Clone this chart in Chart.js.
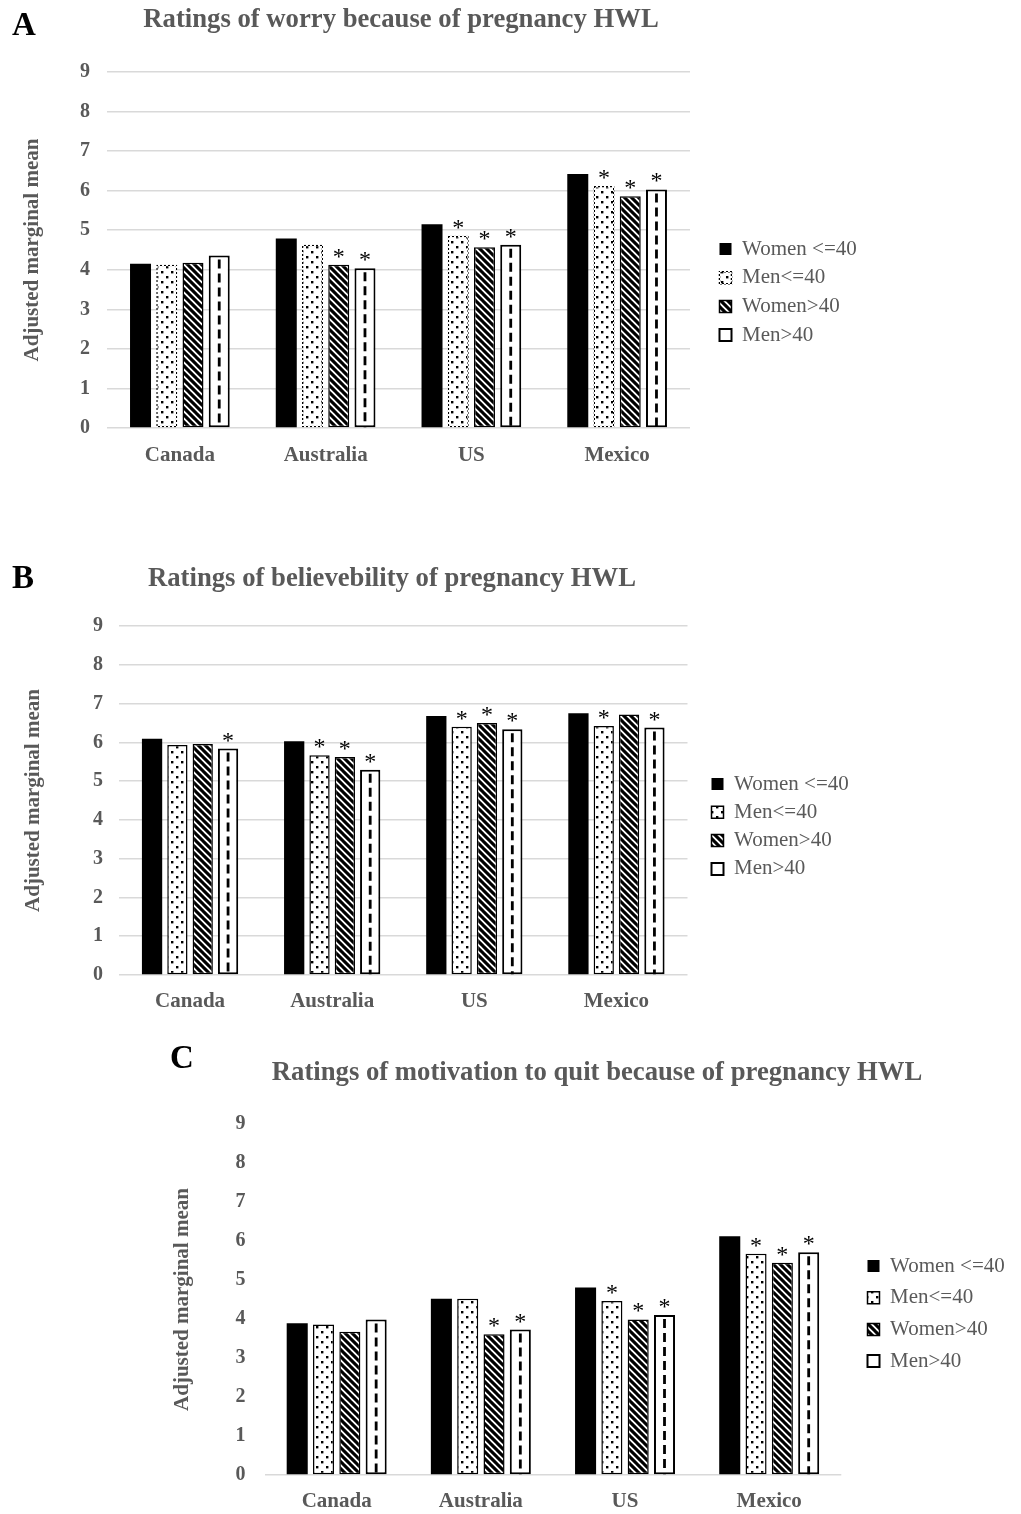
<!DOCTYPE html>
<html>
<head>
<meta charset="utf-8">
<script src="https://cdn.jsdelivr.net/npm/chart.js@4.4.1/dist/chart.umd.min.js"></script>
<style>
  html, body { margin: 0; padding: 0; background: #fff; }
  body { width: 1021px; height: 1514px; position: relative; overflow: hidden; }
  canvas { position: absolute; left: 0; }
</style>
</head>
<body>
<canvas id="chartA" width="1021" height="500" style="top:0px"></canvas>
<canvas id="chartB" width="1021" height="490" style="top:540px"></canvas>
<canvas id="chartC" width="1021" height="484" style="top:1030px"></canvas>
<script>
/* Three panels: worry, believability, motivation to quit (pregnancy HWL)
   adjusted marginal means by country and sex/age group. */

const categories = ["Canada", "Australia", "US", "Mexico"];
const seriesLabels = ["Women <=40", "Men<=40", "Women>40", "Men>40"];
const yTicks = [0, 1, 2, 3, 4, 5, 6, 7, 8, 9];

// A — worry
const worryWomenU40 = [4.15, 4.79, 5.15, 6.42];
const worryMenU40   = [4.13, 4.63, 4.86, 6.12];
const worryWomenO40 = [4.18, 4.13, 4.57, 5.86];
const worryMenO40   = [4.36, 4.04, 4.63, 6.03];
// significance (*) flags, same order as the series
const worryStars = [[0, 0, 0, 0], [0, 0, 1, 1], [0, 1, 1, 1], [0, 1, 1, 1]];

// B — believability
const believeWomenU40 = [6.09, 6.03, 6.68, 6.75];
const believeMenU40   = [5.93, 5.67, 6.40, 6.42];
const believeWomenO40 = [5.96, 5.62, 6.50, 6.72];
const believeMenO40   = [5.84, 5.29, 6.34, 6.38];
const believeStars = [[0, 0, 0, 0], [0, 1, 1, 1], [0, 1, 1, 0], [1, 1, 1, 1]];

// C — motivation to quit
const motivWomenU40 = [3.89, 4.52, 4.81, 6.12];
const motivMenU40   = [3.86, 4.52, 4.46, 5.67];
const motivWomenO40 = [3.67, 3.61, 3.99, 5.44];
const motivMenO40   = [3.99, 3.73, 4.10, 5.71];
const motivStars = [[0, 0, 0, 0], [0, 0, 1, 1], [0, 1, 1, 1], [0, 1, 1, 1]];

const SERIF = "'Liberation Serif', 'Times New Roman', serif";
const GREY = "#595959";

function tile(w, h, paint) {
  const c = document.createElement("canvas");
  c.width = w; c.height = h;
  const g = c.getContext("2d");
  paint(g);
  return g.createPattern(c, "repeat");
}

const dots = tile(10, 10, (g) => {
  g.fillStyle = "#fff"; g.fillRect(0, 0, 10, 10);
  g.fillStyle = "#000"; g.fillRect(1, 1, 2.4, 2.4); g.fillRect(6, 6, 2.4, 2.4);
});
const hatch = tile(7, 7, (g) => {
  g.fillStyle = "#fff"; g.fillRect(0, 0, 7, 7);
  g.strokeStyle = "#000"; g.lineWidth = 3.1;
  g.beginPath();
  for (const k of [-1, 0, 1]) { g.moveTo(k * 7 - 1, -1); g.lineTo(k * 7 + 8, 8); }
  g.stroke();
});
// dotted outline used by the Men<=40 bars in panel A
const dottedEdge = tile(4, 4, (g) => {
  g.fillStyle = "#000"; g.fillRect(0, 0, 2, 2); g.fillRect(2, 2, 2, 2);
});

const decor = {
  id: "decor",
  beforeDraw(chart, args, o) {
    const lg = chart.legend;
    if (!lg) return;
    const P = chart.options.plugins.legend.labels.padding;
    lg.left = o.legendTextX - P - 12 - 10.5;
    lg.top = o.legendRow1 - P - 10.5;
    lg.width = 300; lg.height = 220;
    lg.right = lg.left + 300; lg.bottom = lg.top + 220;
  },
  afterDatasetsDraw(chart, args, o) {
    const ctx = chart.ctx;
    ctx.save();
    ctx.strokeStyle = "#000";
    ctx.lineWidth = 2.8;
    ctx.setLineDash([9, 5]);
    chart.getDatasetMeta(3).data.forEach((bar) => {
      ctx.beginPath();
      ctx.moveTo(bar.x, bar.y + 4);
      ctx.lineTo(bar.x, bar.base);
      ctx.stroke();
    });
    ctx.restore();

    ctx.save();
    ctx.fillStyle = "#000";
    ctx.font = "24px " + SERIF;
    ctx.textAlign = "center";
    ctx.textBaseline = "alphabetic";
    o.stars.forEach((flags, i) => {
      chart.getDatasetMeta(i).data.forEach((bar, j) => {
        if (flags[j]) ctx.fillText("*", bar.x, bar.y - 1);
      });
    });
    ctx.restore();
  },
  afterDraw(chart, args, o) {
    const ctx = chart.ctx;
    ctx.save();
    ctx.textBaseline = "alphabetic";
    ctx.fillStyle = "#000";
    ctx.font = "bold 33px " + SERIF;
    ctx.textAlign = "left";
    ctx.fillText(o.letter, o.letterX, o.letterY);
    ctx.fillStyle = GREY;
    ctx.font = "bold 26.7px " + SERIF;
    ctx.textAlign = "center";
    ctx.fillText(o.title, o.titleX, o.titleY);
    ctx.restore();
  },
};

function makeChart(id, p) {
  const datasets = [
    { label: seriesLabels[0], data: p.values[0], backgroundColor: "#000", borderColor: "#000", borderWidth: 0 },
    { label: seriesLabels[1], data: p.values[1], backgroundColor: dots, borderColor: p.dotEdge ? dottedEdge : "#000", borderWidth: 1.5 },
    { label: seriesLabels[2], data: p.values[2], backgroundColor: hatch, borderColor: "#000", borderWidth: 1.5 },
    { label: seriesLabels[3], data: p.values[3], backgroundColor: "#fff", borderColor: "#000", borderWidth: 2 },
  ];
  datasets.forEach((d) => {
    d.categoryPercentage = p.catPct;
    d.barPercentage = 0.8;
    d.borderSkipped = false;
  });

  return new Chart(document.getElementById(id), {
    type: "bar",
    data: { labels: categories, datasets },
    plugins: [decor],
    options: {
      responsive: false,
      animation: false,
      layout: { padding: p.pad },
      plugins: {
        legend: {
          position: "chartArea",
          align: "start",
          labels: {
            boxWidth: 12,
            boxHeight: 12,
            padding: p.legendPad,
            color: GREY,
            font: { family: SERIF, size: 21 },
          },
        },
        tooltip: { enabled: false },
        decor: p.decor,
      },
      scales: {
        x: {
          grid: { display: false },
          border: { display: false },
          ticks: { color: GREY, padding: p.xPad, font: { family: SERIF, size: 21, weight: "bold" } },
          afterFit: (s) => { s.height = p.xHeight; },
        },
        y: {
          min: yTicks[0],
          max: yTicks[yTicks.length - 1],
          afterBuildTicks: (s) => { s.ticks = yTicks.map((v) => ({ value: v })); },
          ticks: { color: GREY, padding: p.yPad, font: { family: SERIF, size: 20, weight: "bold" } },
          grid: {
            drawTicks: false,
            lineWidth: 1.5,
            color: p.allGrid ? "#d9d9d9" : (c) => (c.tick && c.tick.value === 0 ? "#d9d9d9" : "rgba(0,0,0,0)"),
          },
          border: { display: false },
          title: {
            display: true,
            text: "Adjusted marginal mean",
            color: GREY,
            padding: 0,
            font: { family: SERIF, size: 21, weight: "bold" },
          },
          afterFit: (s) => { s.width = p.yWidth; },
        },
      },
    },
  });
}

makeChart("chartA", {
  values: [worryWomenU40, worryMenU40, worryWomenO40, worryMenO40],
  dotEdge: true,
  allGrid: true,
  catPct: 0.72,
  pad: { left: 20, top: 72, right: 331, bottom: 22 },
  yWidth: 87, yPad: 17,
  xHeight: 50, xPad: 7,
  legendPad: 7.7,
  decor: {
    stars: worryStars,
    letter: "A", letterX: 12, letterY: 35,
    title: "Ratings of worry because of pregnancy HWL", titleX: 401, titleY: 27,
    legendTextX: 742, legendRow1: 249,
  },
});

makeChart("chartB", {
  values: [believeWomenU40, believeMenU40, believeWomenO40, believeMenO40],
  dotEdge: false,
  allGrid: true,
  catPct: 0.713,
  pad: { left: 21, top: 86, right: 333.5, bottom: 5 },
  yWidth: 98, yPad: 16,
  xHeight: 50, xPad: 6,
  legendPad: 7.3,
  decor: {
    stars: believeStars,
    letter: "B", letterX: 12, letterY: 48,
    title: "Ratings of believebility of pregnancy HWL", titleX: 392, titleY: 46,
    legendTextX: 734, legendRow1: 244,
  },
});

makeChart("chartC", {
  values: [motivWomenU40, motivMenU40, motivWomenO40, motivMenO40],
  dotEdge: false,
  allGrid: false,
  catPct: 0.73,
  pad: { left: 170, top: 94, right: 179.7, bottom: 3 },
  yWidth: 94.6, yPad: 19,
  xHeight: 36, xPad: 6,
  legendPad: 10.7,
  decor: {
    stars: motivStars,
    letter: "C", letterX: 170, letterY: 38,
    title: "Ratings of motivation to quit because of pregnancy HWL", titleX: 597, titleY: 50,
    legendTextX: 890, legendRow1: 236,
  },
});
</script>
</body>
</html>
